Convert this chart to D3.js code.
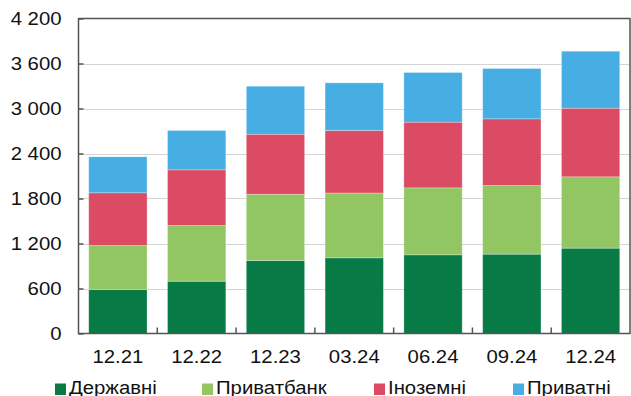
<!DOCTYPE html>
<html><head><meta charset="utf-8">
<script src="https://cdn.jsdelivr.net/npm/d3@7"></script>
<style>
html,body{margin:0;padding:0;background:#fff;}
svg{display:block;font-family:"Liberation Sans",Arial,sans-serif;}
</style></head>
<body>
<svg id="chart" width="631" height="396"></svg>
<script>
const categories = ["12.21","12.22","12.23","03.24","06.24","09.24","12.24"];
const seriesNames = ["Державні","Приватбанк","Іноземні","Приватні"];
const stateBanks   = [587, 697, 973, 1009, 1049, 1058, 1138];
const privatBank   = [586, 743, 884, 864, 893, 915, 951];
const foreignBanks = [703, 742, 800, 834, 876, 889, 915];
const privateBanks = [480, 525, 640, 635, 662, 671, 760];
const yTicks = [0, 600, 1200, 1800, 2400, 3000, 3600, 4200];
const colors = ["#077a46", "#92c663", "#db4b63", "#47aee4"];

(function () {
const svg = d3.select("#chart");
const pLeft = 78.5, pRight = 630, pTop = 18.5, pBottom = 333.5;
const sx = 1.13; // horizontal stretch of the text, as in the reference
const fs = 18;

const x = d3.scaleBand().domain(categories).range([pLeft, pRight]).paddingInner(0.26).paddingOuter(0.13);
const y = d3.scaleLinear().domain([0, 4200]).range([pBottom, pTop]);

const rows = categories.map((c, i) => ({
  cat: c, s0: stateBanks[i], s1: privatBank[i], s2: foreignBanks[i], s3: privateBanks[i]
}));
const layers = d3.stack().keys(["s0","s1","s2","s3"])(rows);

// gridlines
svg.append("g").selectAll("line").data(yTicks.filter(t => t > 0 && t < 4200)).join("line")
  .attr("x1", pLeft).attr("x2", pRight)
  .attr("y1", d => Math.round(y(d)) + 0.5).attr("y2", d => Math.round(y(d)) + 0.5)
  .attr("stroke", "#d4d4d4").attr("stroke-width", 1.2);

// bars
svg.append("g").selectAll("g").data(layers).join("g")
  .attr("fill", (d, i) => colors[i])
  .selectAll("rect").data(d => d).join("rect")
  .attr("x", d => x(d.data.cat))
  .attr("width", x.bandwidth())
  .attr("y", d => y(d[1]))
  .attr("height", d => y(d[0]) - y(d[1]))
  .attr("stroke", "rgba(255,255,255,0.35)").attr("stroke-width", 0.8);

// frame
svg.append("rect").attr("x", pLeft).attr("y", pTop).attr("width", pRight - pLeft).attr("height", pBottom - pTop)
  .attr("fill", "none").attr("stroke", "#555").attr("stroke-width", 1.5);

// y axis
const yAxis = d3.axisLeft(y).tickValues(yTicks).tickSizeInner(-5).tickSizeOuter(0).tickPadding(17)
  .tickFormat(d => d3.format(",")(d).replace(/,/g, " "));
const gy = svg.append("g").attr("transform", `translate(${pLeft},0)`).call(yAxis);
gy.select(".domain").remove();
gy.selectAll(".tick line").attr("stroke", "#555").attr("stroke-width", 1.5);
gy.selectAll(".tick text").attr("font-size", fs).attr("fill", "#111")
  .attr("font-family", "Liberation Sans, Arial, sans-serif")
  .attr("x", -17 / sx).attr("transform", `scale(${sx},1)`);

// x axis
const xAxis = d3.axisBottom(x).tickSize(0).tickPadding(17);
const gx = svg.append("g").attr("transform", `translate(0,${pBottom})`).call(xAxis);
gx.select(".domain").remove();
gx.selectAll(".tick text").attr("font-size", fs).attr("fill", "#111")
  .attr("font-family", "Liberation Sans, Arial, sans-serif")
  .attr("transform", `scale(${sx},1)`);
// category boundary ticks (inward)
const step = x.step();
const bounds = d3.range(1, categories.length).map(i => x(categories[i]) - x.paddingInner() * step / 2);
svg.append("g").selectAll("line").data(bounds).join("line")
  .attr("x1", d => d).attr("x2", d => d).attr("y1", pBottom).attr("y2", pBottom - 6)
  .attr("stroke", "#555").attr("stroke-width", 1.5);

// legend
const legendX = [55, 202, 374, 513];
const lg = svg.append("g").selectAll("g").data(seriesNames).join("g")
  .attr("transform", (d, i) => `translate(${legendX[i]},383.5)`);
lg.append("rect").attr("width", 11).attr("height", 11.5).attr("fill", (d, i) => colors[i]);
lg.append("text").attr("x", 14 / sx).attr("y", 10).attr("font-size", fs).attr("fill", "#111")
  .attr("transform", `scale(${sx},1)`).text(d => d);
})();
</script>
</body></html>
